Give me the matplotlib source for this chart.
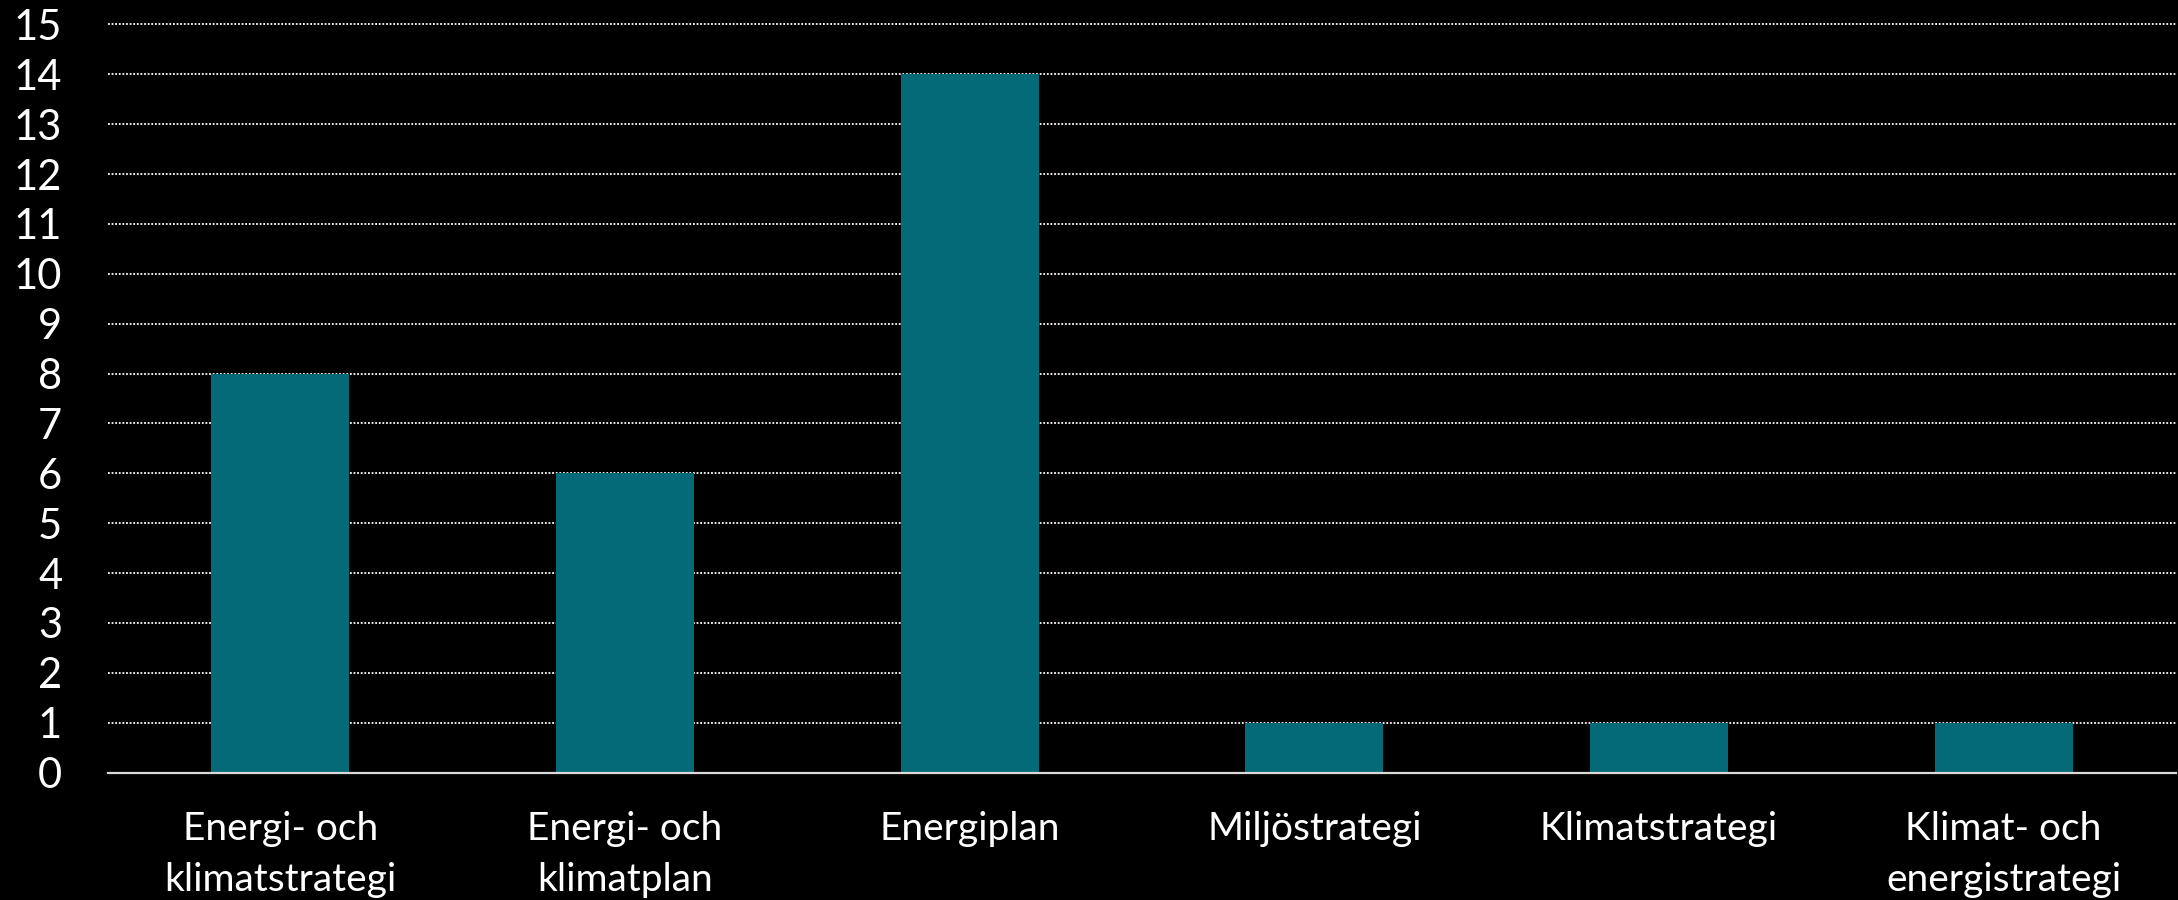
import numpy as np
import matplotlib
matplotlib.use('Agg')
import matplotlib.pyplot as plt

categories = ['Energi- och\nklimatstrategi', 'Energi- och\nklimatplan', 'Energiplan',
              'Miljöstrategi', 'Klimatstrategi', 'Klimat- och\nenergistrategi']
counts = [8, 6, 14, 1, 1, 1]
yticks = list(range(0, 16))

plt.rcParams['font.family'] = ['Lato', 'DejaVu Sans']

fig = plt.figure(figsize=(21.78, 9), dpi=100, facecolor='black')
ax = fig.add_axes([108 / 2178, 127.5 / 900, 2068 / 2178, 750.5 / 900])
ax.set_facecolor('black')

x = np.arange(len(categories))
ax.bar(x, counts, width=0.4, color='#046A78', zorder=3)

ax.set_xlim(-0.5, len(categories) - 0.5)
ax.set_ylim(0, 15.05)
ax.set_yticks(yticks)
ax.set_yticklabels([str(v) for v in yticks])
ax.set_xticks(x)
ax.set_xticklabels(categories, linespacing=1.5)

# dotted white gridlines behind bars
ax.yaxis.grid(True, color='white', linestyle=(0, (1, 1)), linewidth=1.3, zorder=0)
ax.set_axisbelow(True)

for side in ['top', 'right', 'left']:
    ax.spines[side].set_visible(False)
ax.spines['bottom'].set_color('#D9D9D9')
ax.spines['bottom'].set_linewidth(1.6)
ax.spines['bottom'].set_zorder(4)

ax.tick_params(axis='y', length=0, pad=33, labelsize=30, labelcolor='white')
ax.tick_params(axis='x', length=0, pad=28, labelsize=28, labelcolor='white')

fig.savefig('out.png', dpi=100, facecolor='black')
